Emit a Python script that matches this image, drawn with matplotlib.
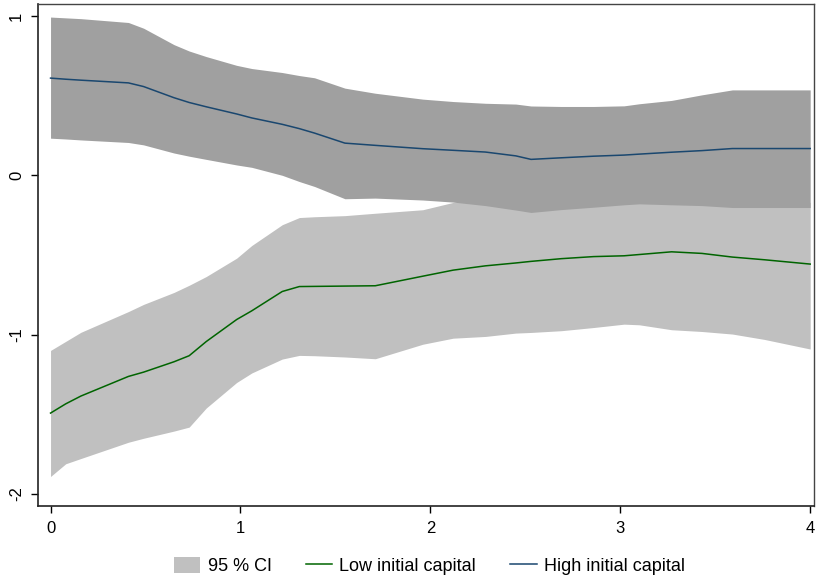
import matplotlib
matplotlib.use("Agg")
import matplotlib.pyplot as plt
from matplotlib.patches import Patch
from matplotlib.lines import Line2D

plt.rcParams['font.family'] = ['Liberation Sans', 'DejaVu Sans']

# horizon (x)
x = [0, 0.08, 0.16, 0.41, 0.49, 0.65, 0.73, 0.82, 0.98, 1.06, 1.22, 1.31, 1.39, 1.55,
     1.71, 1.96, 2.12, 2.29, 2.45, 2.53, 2.69, 2.86, 3.02, 3.10, 3.27, 3.43, 3.59, 3.76, 4.0]

# High initial capital: point estimate and 95% CI
high = [0.61, 0.603, 0.597, 0.58, 0.557, 0.487, 0.457, 0.43, 0.385, 0.36, 0.32, 0.293, 0.265, 0.202,
        0.188, 0.167, 0.157, 0.146, 0.122, 0.10, 0.11, 0.12, 0.127, 0.133, 0.145, 0.155, 0.168, 0.168, 0.168]
high_hi = [0.993, 0.988, 0.983, 0.959, 0.923, 0.82, 0.78, 0.745, 0.69, 0.67, 0.645, 0.626, 0.612, 0.547,
           0.515, 0.478, 0.463, 0.452, 0.447, 0.435, 0.432, 0.432, 0.436, 0.449, 0.47, 0.505, 0.536, 0.536, 0.536]
high_lo = [0.233, 0.228, 0.222, 0.206, 0.191, 0.14, 0.12, 0.10, 0.065, 0.05, 0.0, -0.039, -0.07, -0.147,
           -0.143, -0.155, -0.168, -0.19, -0.218, -0.233, -0.215, -0.2, -0.185, -0.179, -0.185, -0.19, -0.202, -0.202, -0.202]

# Low initial capital: point estimate and 95% CI
low = [-1.492, -1.434, -1.385, -1.262, -1.235, -1.17, -1.132, -1.043, -0.905, -0.85, -0.729, -0.698, -0.697, -0.695,
       -0.693, -0.633, -0.595, -0.568, -0.55, -0.54, -0.523, -0.51, -0.505, -0.497, -0.48, -0.49, -0.513, -0.53, -0.557]
low_hi = [-1.099, -1.042, -0.985, -0.855, -0.81, -0.735, -0.69, -0.635, -0.52, -0.44, -0.31, -0.265, -0.26, -0.253,
          -0.238, -0.216, -0.17, -0.14, -0.13, -0.13, -0.14, -0.14, -0.14, -0.14, -0.13, -0.14, -0.15, -0.16, -0.17]
low_lo = [-1.89, -1.81, -1.777, -1.675, -1.65, -1.605, -1.58, -1.46, -1.3, -1.24, -1.153, -1.13, -1.132, -1.14,
          -1.151, -1.06, -1.022, -1.011, -0.99, -0.986, -0.975, -0.955, -0.934, -0.938, -0.969, -0.98, -0.996, -1.03, -1.09]

xticks = [0, 1, 2, 3, 4]
yticks = [-2, -1, 0, 1]

fig = plt.figure(figsize=(8.16, 5.81), dpi=100)
ax = fig.add_axes([38/816, 75/581, 776/816, 502/581])

ax.fill_between(x, low_lo, low_hi, color='#c0c0c0', linewidth=0, zorder=1)
ax.fill_between(x, high_lo, high_hi, color='#a0a0a0', linewidth=0, zorder=2)
ax.plot(x, low, color='#006400', lw=1.1, zorder=3)
ax.plot(x, high, color='#1a476f', lw=1.1, zorder=3)

ax.set_xlim(-0.066, 4.02)
ax.set_ylim(-2.075, 1.075)
ax.set_xticks(xticks)
ax.set_xticklabels([str(t) for t in xticks])
ax.set_yticks(yticks)
ax.set_yticklabels([str(t) for t in yticks], rotation=90, va='center')
ax.tick_params(direction='out', length=5, width=1, labelsize=12, colors='black')
ax.tick_params(axis='x', pad=6)
ax.tick_params(axis='y', pad=5)
for s in ['left', 'bottom']:
    ax.spines[s].set_linewidth(1.2)
    ax.spines[s].set_color('#222222')
for s in ['top', 'right']:
    ax.spines[s].set_linewidth(1.0)
    ax.spines[s].set_color('#444444')

handles = [Patch(facecolor='#c0c0c0', edgecolor='none'),
           Line2D([], [], color='#006400', lw=1.1),
           Line2D([], [], color='#1a476f', lw=1.1)]
labels = ['95 % CI', 'Low initial capital', 'High initial capital']
fig.legend(handles, labels, loc='center', bbox_to_anchor=(429.5/816, 1 - 566/581), ncol=3,
           frameon=False, fontsize=13, handlelength=1.45, handleheight=1.0,
           handletextpad=0.4, columnspacing=1.9)

fig.savefig('out.png', dpi=100)
